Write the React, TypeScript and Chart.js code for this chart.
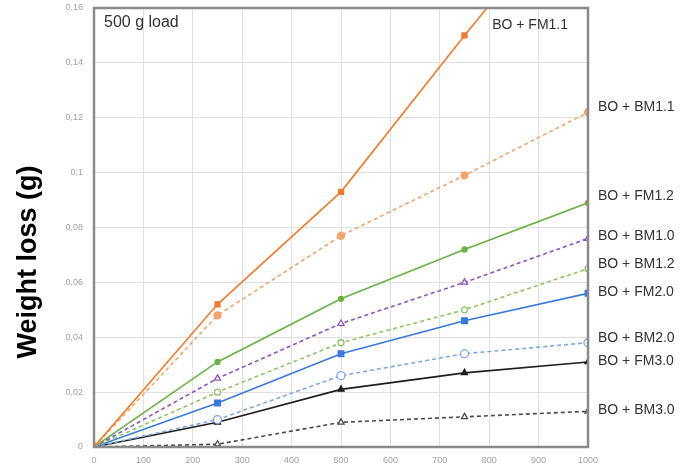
import React, { useEffect, useRef } from "react";
import { Chart, registerables } from "chart.js";

Chart.register(...registerables);

const loads = [0, 250, 500, 750, 1000];
const xTicks = [0, 100, 200, 300, 400, 500, 600, 700, 800, 900, 1000];
const yTicks = [0, 0.02, 0.04, 0.06, 0.08, 0.1, 0.12, 0.14, 0.16];

const seriesNames = [
  "BO + FM1.1",
  "BO + BM1.1",
  "BO + FM1.2",
  "BO + BM1.0",
  "BO + BM1.2",
  "BO + FM2.0",
  "BO + BM2.0",
  "BO + FM3.0",
  "BO + BM3.0",
];

const fm11 = [0, 0.052, 0.093, 0.15, 0.205];
const bm11 = [0, 0.048, 0.077, 0.099, 0.122];
const fm12 = [0, 0.031, 0.054, 0.072, 0.089];
const bm10 = [0, 0.025, 0.045, 0.06, 0.076];
const bm12 = [0, 0.02, 0.038, 0.05, 0.065];
const fm20 = [0, 0.016, 0.034, 0.046, 0.056];
const bm20 = [0, 0.01, 0.026, 0.034, 0.038];
const fm30 = [0, 0.009, 0.021, 0.027, 0.031];
const bm30 = [0, 0.001, 0.009, 0.011, 0.013];

// label anchors (data units) for the series names
const labelX = [802, 1000, 1000, 1000, 1000, 1000, 1000, 1000, 1000];
const labelY = [0.1537, 0.1239, 0.0914, 0.0769, 0.0667, 0.0565, 0.0397, 0.0313, 0.0135];

const yTitle = "Weight loss (g)";
const loadNote = "500 g load";

const styles = [
  { color: "#F07B2C", dash: [], marker: "rect", r: 3.5, fill: true },
  { color: "#F5A36D", dash: [4, 3], marker: "circle", r: 3.5, fill: true },
  { color: "#6DB144", dash: [], marker: "circle", r: 2.5, fill: true },
  { color: "#8A55C6", dash: [4, 3], marker: "triangle", r: 3.5, fill: false },
  { color: "#8DC665", dash: [4, 3], marker: "circle", r: 3, fill: false },
  { color: "#3B78DE", dash: [], marker: "rect", r: 4, fill: true },
  { color: "#7FA6E8", dash: [4, 3], marker: "circle", r: 4, fill: false },
  { color: "#1E1E1E", dash: [], marker: "triangle", r: 3.5, fill: true },
  { color: "#4A4A4A", dash: [4, 3], marker: "triangle", r: 3.5, fill: false },
];

const allSeries = [fm11, bm11, fm12, bm10, bm12, fm20, bm20, fm30, bm30];

const FONT = "'Liberation Sans', 'Open Sans', sans-serif";

export default function App() {
  const ref = useRef<HTMLCanvasElement | null>(null);

  useEffect(() => {
    if (!ref.current) return;
    const overlay = {
      id: "overlay",
      afterDatasetsDraw(chart: any) {
        const { ctx, chartArea, scales } = chart;
        ctx.save();
        // plot frame
        ctx.strokeStyle = "#8a8a8a";
        ctx.lineWidth = 2.5;
        ctx.strokeRect(chartArea.left, chartArea.top, chartArea.right - chartArea.left, chartArea.bottom - chartArea.top);
        // series labels
        ctx.fillStyle = "#333";
        ctx.font = `14px ${FONT}`;
        ctx.textBaseline = "middle";
        ctx.textAlign = "left";
        seriesNames.forEach((n, i) => {
          const px = scales.x.getPixelForValue(labelX[i]) + (labelX[i] === 1000 ? 10 : 2);
          const py = scales.y.getPixelForValue(labelY[i]);
          ctx.fillText(n, px, py);
        });
        // load note
        ctx.font = `16px ${FONT}`;
        ctx.fillStyle = "#333";
        ctx.fillText(loadNote, chartArea.left + 10, chartArea.top + 15);
        // y title
        ctx.font = `bold 27px ${FONT}`;
        ctx.fillStyle = "#000";
        ctx.textAlign = "center";
        ctx.textBaseline = "alphabetic";
        ctx.translate(36, 262);
        ctx.rotate(-Math.PI / 2);
        ctx.fillText(yTitle, 0, 0);
        ctx.restore();
      },
    };

    const chart = new Chart(ref.current, {
      type: "line",
      data: {
        datasets: allSeries.map((vals, i) => ({
          label: seriesNames[i],
          data: loads.map((x, j) => ({ x, y: vals[j] })),
          borderColor: styles[i].color,
          backgroundColor: styles[i].fill ? styles[i].color : "#ffffff",
          borderWidth: 1.6,
          borderDash: styles[i].dash,
          pointStyle: styles[i].marker as any,
          pointRadius: styles[i].r,
          pointBorderColor: styles[i].color,
          pointBackgroundColor: styles[i].fill ? styles[i].color : "#ffffff",
          pointBorderWidth: 1.3,
          tension: 0,
        })),
      },
      options: {
        animation: false,
        responsive: false,
        layout: { padding: { left: 0, right: 93, top: 8, bottom: 0 } },
        plugins: { legend: { display: false }, tooltip: { enabled: false } },
        scales: {
          x: {
            type: "linear",
            min: 0,
            max: 1000,
            afterBuildTicks: (s: any) => {
              s.ticks = xTicks.map((v) => ({ value: v }));
            },
            afterFit: (s: any) => {
              s.height = 25;
              s.paddingLeft = 0;
              s.paddingRight = 0;
            },
            grid: { color: "#e0e0e0", lineWidth: 1, drawTicks: false },
            border: { display: false },
            ticks: {
              color: "#a0a0a0",
              font: { size: 9, family: FONT },
              padding: 8,
              callback: (v: any) => String(v),
            },
          },
          y: {
            type: "linear",
            min: 0,
            max: 0.16,
            afterBuildTicks: (s: any) => {
              s.ticks = yTicks.map((v) => ({ value: v }));
            },
            afterFit: (s: any) => {
              s.width = 94;
              s.paddingTop = 0;
              s.paddingBottom = 0;
            },
            grid: { color: "#e0e0e0", lineWidth: 1, drawTicks: false },
            border: { display: false },
            ticks: {
              color: "#a0a0a0",
              font: { size: 9, family: FONT },
              padding: 11,
              callback: (v: any) => String(Number(Number(v).toFixed(2))).replace(".", ","),
            },
          },
        },
      },
      plugins: [overlay],
    });
    return () => chart.destroy();
  }, []);

  return (
    <div style={{ position: "fixed", left: 0, top: 0, width: 681, height: 472, background: "#fff" }}>
      <canvas ref={ref} width={681} height={472} style={{ width: 681, height: 472 }} />
    </div>
  );
}
